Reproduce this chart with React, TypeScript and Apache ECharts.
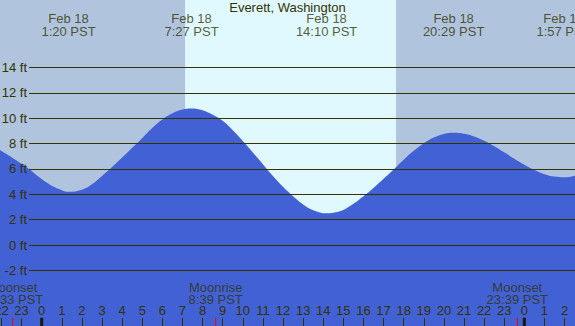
import React, { useEffect, useRef } from "react";
import * as echarts from "echarts";

const TITLE = "Everett, Washington";

// tide height (ft) vs hours since midnight Feb 18 (PST)
const tideHours = [-3, -2.5, -2, -1.5, -1, -0.5, 0, 0.5, 1, 1.333, 2, 2.5, 3, 3.5, 4, 4.5, 5, 5.5, 6, 6.5, 7, 7.45, 8, 8.5, 9, 9.5, 10, 10.5, 11, 11.5, 12, 12.5, 13, 13.5, 14.167, 14.5, 15, 15.5, 16, 16.5, 17, 17.5, 18, 18.5, 19, 19.5, 20, 20.483, 21, 21.5, 22, 22.5, 23, 23.5, 24, 24.5, 25, 25.5, 25.95, 26.5, 27];
const tideFeet = [8.4, 7.92, 7.42, 6.93, 6.42, 5.85, 5.2, 4.67, 4.33, 4.2, 4.37, 4.8, 5.45, 6.15, 6.9, 7.67, 8.45, 9.24, 9.91, 10.39, 10.69, 10.78, 10.64, 10.29, 9.8, 9.05, 8.2, 7.3, 6.38, 5.45, 4.6, 3.85, 3.2, 2.75, 2.5, 2.54, 2.77, 3.25, 3.85, 4.5, 5.22, 5.96, 6.73, 7.43, 8.03, 8.48, 8.77, 8.86, 8.78, 8.57, 8.23, 7.8, 7.32, 6.81, 6.33, 5.92, 5.59, 5.4, 5.34, 5.46, 5.79];

// high / low tide labels
const extremeHours = [1.333, 7.45, 14.167, 20.483, 25.95];
const extremeDates = ["Feb 18", "Feb 18", "Feb 18", "Feb 18", "Feb 19"];
const extremeTimes = ["1:20 PST", "7:27 PST", "14:10 PST", "20:29 PST", "1:57 PST"];

// moon events
const moonHours = [-1.45, 8.65, 23.65];
const moonEvents = ["Moonset", "Moonrise", "Moonset"];
const moonTimes = ["22:33 PST", "8:39 PST", "23:39 PST"];

const midnightHours = [0, 24];
const sunriseHour = 7.13;
const sunsetHour = 17.62;

const levelTicks = [-2, 0, 2, 4, 6, 8, 10, 12, 14];

const FONT = "'Liberation Sans', Arial, Helvetica, sans-serif";
const TEXT = "#333300";
const NIGHT = "#B0C4DE";
const DAY = "#E0F8FF";
const WATER = "#4161D5";

export default function App() {
  const ref = useRef<HTMLDivElement>(null);
  useEffect(() => {
    document.body.style.margin = "0";
    const chart = echarts.init(ref.current!, null, { renderer: "svg" });
    const gridTop = -8.4;
    const gridBottom = -20.36;
    const option: any = {
      animation: false,
      title: {
        text: TITLE,
        left: "center",
        top: 1,
        padding: 0,
        textStyle: { fontSize: 13, fontWeight: "normal", color: TEXT, fontFamily: FONT },
      },
      grid: [
        { left: -18.63, right: -9.67, top: gridTop, bottom: gridBottom, show: true, backgroundColor: NIGHT, borderWidth: 0, containLabel: false, outerBoundsMode: "none" },
        { left: 29, right: 0, top: gridTop, bottom: gridBottom, show: false, containLabel: false, outerBoundsMode: "none" },
      ],
      xAxis: [
        {
          type: "value",
          gridIndex: 0,
          min: -3,
          max: 27,
          interval: 1,
          offset: gridBottom,
          position: "bottom",
          z: 10,
          axisLine: { show: false, onZero: false },
          axisTick: { show: true, inside: true, length: 8, lineStyle: { color: TEXT, width: 1 } },
          axisLabel: {
            show: true,
            inside: true,
            margin: 9,
            interval: 0,
            color: TEXT,
            fontSize: 13,
            fontFamily: FONT,
            showMinLabel: true,
            showMaxLabel: true,
            formatter: (v: number) => String(((v % 24) + 24) % 24),
          },
          splitLine: { show: false },
        },
        { type: "value", gridIndex: 1, min: 0, max: 1, show: false, axisLine: { onZero: false } },
      ],
      yAxis: [
        { type: "value", gridIndex: 0, min: -8, max: 20, interval: 2, show: false, axisLine: { onZero: false } },
        {
          type: "value",
          gridIndex: 1,
          min: -8,
          max: 20,
          interval: 2,
          z: 10,
          axisLine: { show: false, onZero: false },
          axisTick: { show: false },
          splitLine: { show: false },
          axisLabel: {
            margin: 2,
            color: TEXT,
            fontSize: 13,
            fontFamily: FONT,
            showMinLabel: true,
            showMaxLabel: true,
            formatter: (v: number) => (levelTicks.includes(v) ? `${v} ft` : ""),
          },
        },
      ],
      series: [
        {
          type: "line",
          xAxisIndex: 0,
          yAxisIndex: 0,
          data: [],
          z: 1,
          silent: true,
          markArea: {
            silent: true,
            itemStyle: { color: DAY },
            data: [[{ xAxis: sunriseHour }, { xAxis: sunsetHour }]],
          },
        },
        {
          type: "line",
          xAxisIndex: 0,
          yAxisIndex: 0,
          z: 2,
          silent: true,
          smooth: 0.4,
          showSymbol: false,
          symbol: "none",
          lineStyle: { width: 0 },
          areaStyle: { color: WATER, opacity: 1, origin: "start" },
          data: tideHours.map((h, i) => [h, tideFeet[i]]),
        },
        {
          type: "line",
          xAxisIndex: 1,
          yAxisIndex: 1,
          data: [],
          z: 3,
          silent: true,
          markLine: {
            silent: true,
            symbol: ["none", "none"],
            label: { show: false },
            emphasis: { disabled: true },
            lineStyle: { color: TEXT, width: 1, type: "solid" },
            data: levelTicks.map((v) => ({ yAxis: v })),
          },
        },
        {
          type: "custom",
          xAxisIndex: 0,
          yAxisIndex: 0,
          z: 11,
          silent: true,
          data: [
            ...midnightHours.map((h) => [h, 0, 0]),
            ...moonHours.map((h) => [h, 0, 1]),
          ],
          renderItem: (params: any, api: any) => {
            const x = api.coord([api.value(0), 0])[0];
            const H = api.getHeight();
            const kind = api.value(2);
            return {
              type: "line",
              shape: { x1: x, y1: H - 8.3, x2: x, y2: H },
              style: { stroke: kind === 0 ? "#1a1a00" : "#ff0000", lineWidth: kind === 0 ? 3 : 1 },
            };
          },
        },
        {
          type: "scatter",
          xAxisIndex: 0,
          yAxisIndex: 0,
          z: 12,
          silent: true,
          symbolSize: 0,
          data: extremeHours.map((h) => [h, 17.35]),
          label: {
            show: true,
            position: "inside",
            color: TEXT,
            fontSize: 13,
            lineHeight: 12.5,
            fontFamily: FONT,
            formatter: (p: any) => `${extremeDates[p.dataIndex]}\n${extremeTimes[p.dataIndex]}`,
          },
        },
        {
          type: "scatter",
          xAxisIndex: 0,
          yAxisIndex: 0,
          z: 12,
          silent: true,
          symbolSize: 0,
          data: moonHours.map((h) => [h, -3.84]),
          label: {
            show: true,
            position: "inside",
            color: TEXT,
            fontSize: 13,
            lineHeight: 12,
            fontFamily: FONT,
            formatter: (p: any) => `${moonEvents[p.dataIndex]}\n${moonTimes[p.dataIndex]}`,
          },
        },
      ],
    };
    chart.setOption(option);
    return () => chart.dispose();
  }, []);
  return <div ref={ref} style={{ position: "absolute", left: 0, top: 0, width: 575, height: 326 }} />;
}
